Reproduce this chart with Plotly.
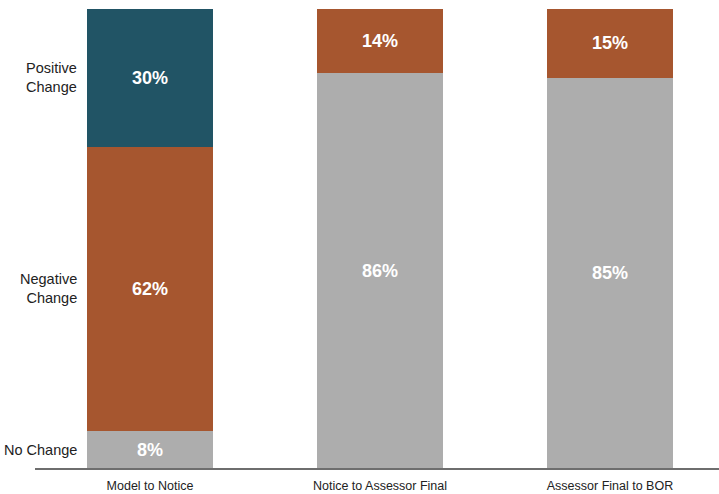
import plotly.graph_objects as go

categories = ["Model to Notice", "Notice to Assessor Final", "Assessor Final to BOR"]
no_change = [8, 86, 85]
negative_change = [62, 14, 15]
positive_change = [30, 0, 0]
series_names = ["No Change", "Negative Change", "Positive Change"]
colors = ["#ADADAD", "#A6562F", "#215465"]

FONT = "Liberation Sans, Arial, sans-serif"

fig = go.Figure()
for name, vals, col in zip(series_names, [no_change, negative_change, positive_change], colors):
    fig.add_trace(go.Bar(
        x=categories, y=vals, name=name,
        marker=dict(color=col, line=dict(width=0)),
        text=[f"{v}%" if v > 0 else "" for v in vals],
        textposition="inside", insidetextanchor="middle",
        textfont=dict(family=FONT, size=18, color="white", weight="bold"),
        textangle=0,
        constraintext="none",
    ))

# Row labels at the midpoints of the first bar's segments
base = 0
for name, vals in zip(series_names, [no_change, negative_change, positive_change]):
    mid = base + vals[0] / 2
    base += vals[0]
    fig.add_annotation(
        x=-0.31, y=mid, xref="x", yref="y",
        text=name.replace(" ", "<br>") if name != "No Change" else name,
        showarrow=False, xanchor="right", yanchor="middle", align="right",
        font=dict(family=FONT, size=14.5, color="#222222"),
    )

fig.update_layout(
    barmode="stack",
    bargap=0.448,
    width=719, height=494,
    margin=dict(l=35, r=0, t=9, b=26),
    plot_bgcolor="white", paper_bgcolor="white",
    showlegend=False,
    uniformtext=dict(mode=False),
)
fig.update_xaxes(
    range=[-0.5, 2.474], showline=True, linecolor="#6E6E6E", linewidth=1.5,
    ticks="", showgrid=False, automargin=False, ticklabelstandoff=5,
    tickfont=dict(family=FONT, size=12.5, color="#222222"),
)
fig.update_yaxes(
    range=[0, 100], visible=False, showgrid=False, automargin=False,
)
fig.write_html(
    "out.html",
    config={"displayModeBar": False},
    post_script="document.body.style.margin='0';document.body.style.overflow='hidden';",
)
